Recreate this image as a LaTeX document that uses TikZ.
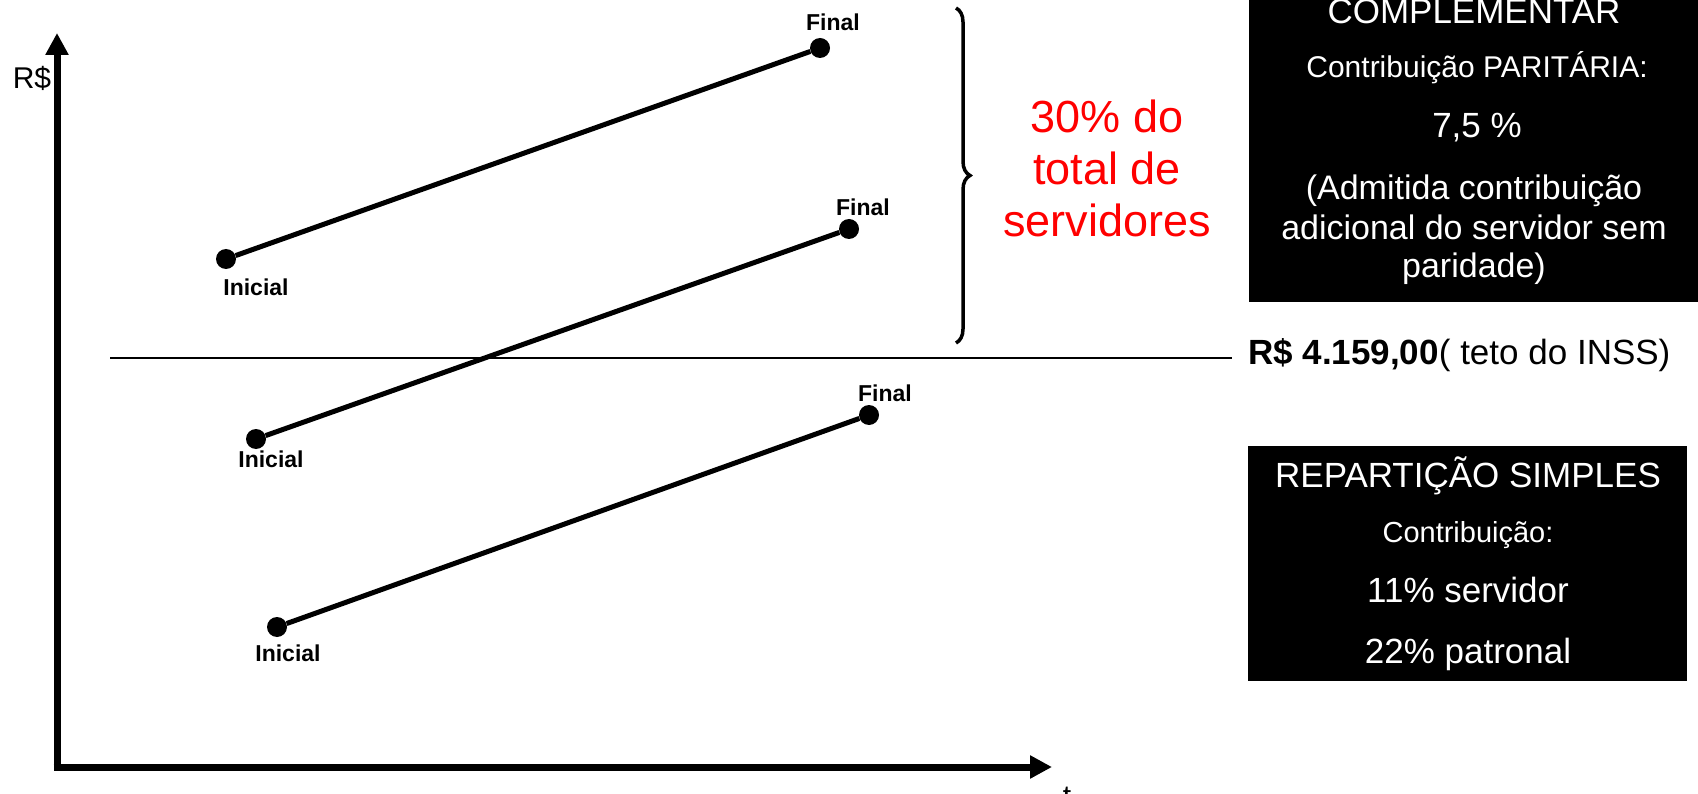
\documentclass[tikz,border=0pt]{standalone}
\usepackage{fontspec}
\setmainfont{Liberation Sans}
\usetikzlibrary{arrows.meta}
\usetikzlibrary{decorations.pathreplacing}

\newcommand{\fs}[1]{\fontsize{#1}{#1}\selectfont}

\begin{document}
\begin{tikzpicture}[x=1pt, y=-1pt,
dot/.style ={shape=circle, fill=black, inner sep=0pt, minimum size=20pt},
tag/.style ={font=\bfseries\fs{23}, inner sep=0pt},
axis/.style ={line width=7pt, -{Triangle[width=22pt,length=22pt]}},
salary/.style ={line width=5pt},
blackbox/.style ={fill=black},
boxtext/.style ={text=white, inner sep=0pt, anchor=base}]
\useasboundingbox (0,0) rectangle (1698,794);
% axes
\coordinate (origin) at (57,767);
\coordinate (ytop) at (57,33);
\coordinate (xend) at (1052,767);
\draw[axis] (origin) -- (ytop);
\draw[axis] ([xshift=-3.5pt]origin) -- (xend);
\node[anchor=base, inner sep=0pt, font=\fs{30}] (reais) at (32,89) {R\$};
\node[anchor=base, inner sep=0pt, font=\fs{30}] (tempo) at (1067,806) {t};
% teto
\coordinate (tetoL) at (110,358);
\node[anchor=base west, inner sep=0pt, font=\fs{35}] (teto) at (1248,365)
  {\textbf{R\$ 4.159,00}( teto do INSS)};
\draw[line width=2pt] (tetoL) -- ([xshift=-16pt]tetoL -| teto.west);
% salary lines
\node[dot] (i1) at (226,259) {};
\node[dot] (f1) at (820,48) {};
\node[dot] (i2) at (256,439) {};
\node[dot] (f2) at (849,229) {};
\node[dot] (i3) at (277,627) {};
\node[dot] (f3) at (869,415) {};
\draw[salary] (i1) -- (f1);
\draw[salary] (i2) -- (f2);
\draw[salary] (i3) -- (f3);
\node[tag] (ini1) at (256,287) {Inicial};
\node[tag] (fin1) at (833,22) {Final};
\node[tag] (ini2) at (271,459) {Inicial};
\node[tag] (fin2) at (863,207) {Final};
\node[tag] (ini3) at (288,653) {Inicial};
\node[tag] (fin3) at (885,393) {Final};
% brace
\coordinate (bracetop) at (956,8);
\coordinate (bracebot) at (956,343);
\draw[line width=3.5pt, decorate, decoration={brace, amplitude=14pt}] (bracetop) -- (bracebot);
\node[text=red, align=center, font=\fs{45}, inner sep=0pt] (parcela) at (1107,168)
  {30\% do\\[7pt]total de\\[7pt]servidores};
% boxes
\fill[blackbox] (1249,-20) rectangle (1710,302);
\node[boxtext, font=\fs{35}] (complementar) at (1474,24) {COMPLEMENTAR};
\node[boxtext, font=\fs{30}] (paritaria) at (1477,78) {Contribuição PARITÁRIA:};
\node[boxtext, font=\fs{35}] (aliquota) at (1477,138) {7,5 \%};
\node[boxtext, font=\fs{34}] (adm1) at (1474,200) {(Admitida contribuição};
\node[boxtext, font=\fs{34}] (adm2) at (1474,240) {adicional do servidor sem};
\node[boxtext, font=\fs{34}] (adm3) at (1474,278) {paridade)};
\fill[blackbox] (1248,446) rectangle (1687,681);
\node[boxtext, font=\fs{35}] (reparticao) at (1468,487) {REPARTIÇÃO SIMPLES};
\node[boxtext, font=\fs{29}] (contrib) at (1468,542) {Contribuição:};
\node[boxtext, font=\fs{35}] (servidor) at (1468,602) {11\% servidor};
\node[boxtext, font=\fs{35}] (patronal) at (1468,663) {22\% patronal};
\end{tikzpicture}
\end{document}
